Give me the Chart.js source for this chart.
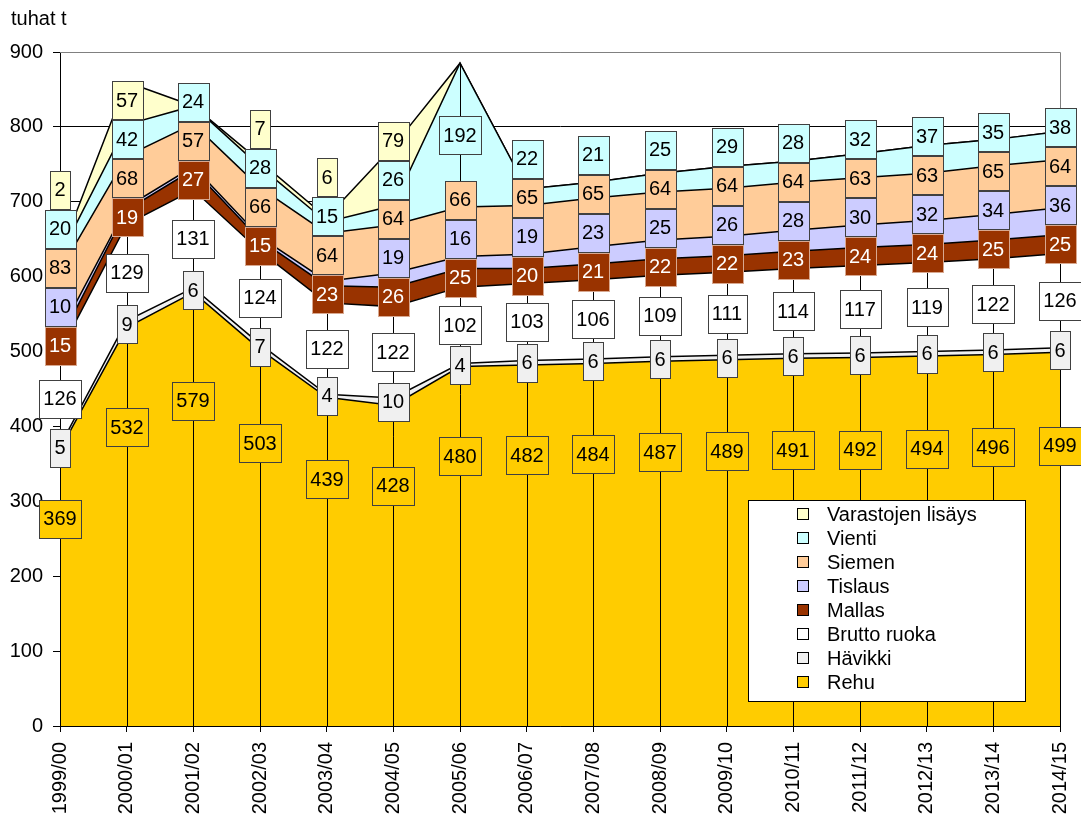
<!DOCTYPE html>
<html>
<head>
<meta charset="utf-8">
<script src="https://cdn.jsdelivr.net/npm/chart.js@4.4.1/dist/chart.umd.min.js"></script>
<style>
  body { margin: 0; background: #fff; }
</style>
</head>
<body>
<canvas id="chart" width="1081" height="814"></canvas>
<script>
var years = ['1999/00', '2000/01', '2001/02', '2002/03', '2003/04', '2004/05', '2005/06', '2006/07',
             '2007/08', '2008/09', '2009/10', '2010/11', '2011/12', '2012/13', '2013/14', '2014/15'];

// tuhat tonnia, stacked from the bottom up
var rehu      = [369, 532, 579, 503, 439, 428, 480, 482, 484, 487, 489, 491, 492, 494, 496, 499];
var havikki   = [5, 9, 6, 7, 4, 10, 4, 6, 6, 6, 6, 6, 6, 6, 6, 6];
var brutto    = [126, 129, 131, 124, 122, 122, 102, 103, 106, 109, 111, 114, 117, 119, 122, 126];
var mallas    = [15, 19, 27, 15, 23, 26, 25, 20, 21, 22, 22, 23, 24, 24, 25, 25];
var tislaus   = [10, 4, 4, 4, 6, 19, 16, 19, 23, 25, 26, 28, 30, 32, 34, 36];
var siemen    = [83, 68, 57, 66, 64, 64, 66, 65, 65, 64, 64, 64, 63, 63, 65, 64];
var vienti    = [20, 42, 24, 28, 15, 26, 192, 22, 21, 25, 29, 28, 32, 37, 35, 38];
var varastot  = [2, 57, 0, 7, 6, 79, 0, 0, 0, 0, 0, 0, 0, 0, 0, 0];

var seriesNames  = ['Rehu', 'Hävikki', 'Brutto ruoka', 'Mallas', 'Tislaus', 'Siemen', 'Vienti', 'Varastojen lisäys'];
var seriesColors = ['#FFCC00', '#F0F0F0', '#FFFFFF', '#993300', '#CCCCFF', '#FFCC99', '#CCFFFF', '#FFFFCC'];
var seriesValues = [rehu, havikki, brutto, mallas, tislaus, siemen, vienti, varastot];

// Tislaus has no label in these years in the original
var noLabel = { 4: [1, 2, 3, 4] };

var FONT = '"Liberation Sans", Arial, sans-serif';
Chart.defaults.font.family = FONT;
Chart.defaults.font.size = 20;
Chart.defaults.color = '#000';

var LABEL_H = 38;
var LABEL_GAP = 39;

// plot frame (top and right edges)
var plotFrame = {
    id: 'plotFrame',
    beforeDatasetsDraw: function (chart) {
        var a = chart.chartArea, ctx = chart.ctx;
        ctx.save();
        ctx.strokeStyle = '#808080';
        ctx.lineWidth = 1;
        ctx.beginPath();
        ctx.moveTo(a.left, a.top + 0.5);
        ctx.lineTo(a.right + 0.5, a.top + 0.5);
        ctx.lineTo(a.right + 0.5, a.bottom);
        ctx.stroke();
        ctx.restore();
    }
};

// drop lines and boxed value labels
var dropLinesAndLabels = {
    id: 'dropLinesAndLabels',
    afterDatasetsDraw: function (chart) {
        var ctx = chart.ctx, xs = chart.scales.x, ys = chart.scales.y;
        ctx.save();
        ctx.strokeStyle = '#000';
        ctx.lineWidth = 1;
        years.forEach(function (yr, i) {
            var total = 0;
            seriesValues.forEach(function (arr) { total += arr[i]; });
            var x = Math.round(xs.getPixelForValue(i)) + 0.5;
            ctx.beginPath();
            ctx.moveTo(x, ys.getPixelForValue(0));
            ctx.lineTo(x, ys.getPixelForValue(total));
            ctx.stroke();
        });

        ctx.font = '20px ' + FONT;
        ctx.textAlign = 'center';
        ctx.textBaseline = 'middle';
        years.forEach(function (yr, i) {
            var base = 0, prev = Infinity;
            var x = Math.round(xs.getPixelForValue(i));
            seriesValues.forEach(function (arr, s) {
                var v = arr[i];
                var mid = s === 0 ? v * 0.75 : base + v / 2;
                base += v;
                if (!v || (noLabel[s] && noLabel[s].indexOf(i) >= 0)) return;
                var cy = Math.min(ys.getPixelForValue(mid), prev - LABEL_GAP);
                prev = cy;
                var txt = String(v);
                var w = Math.round(ctx.measureText(txt).width + 9);
                var bx = Math.round(x - w / 2) + 0.5, by = Math.round(cy - LABEL_H / 2) + 0.5;
                ctx.fillStyle = seriesColors[s];
                ctx.fillRect(bx, by, w, LABEL_H);
                ctx.strokeStyle = s === 3 ? '#d8a890' : '#404040';
                ctx.strokeRect(bx, by, w, LABEL_H);
                ctx.fillStyle = s === 3 ? '#fff' : '#000';
                ctx.fillText(txt, x, cy + 1);
            });
        });
        ctx.restore();
    }
};

// axis title and legend box
var extras = {
    id: 'extras',
    afterDraw: function (chart) {
        var ctx = chart.ctx;
        ctx.save();
        ctx.font = '20px ' + FONT;
        ctx.fillStyle = '#000';
        ctx.textAlign = 'left';
        ctx.textBaseline = 'middle';
        ctx.fillText('tuhat t', 11, 19);

        var lx = 748, ly = 500, lw = 277, lh = 201;
        ctx.fillStyle = '#fff';
        ctx.fillRect(lx + 0.5, ly + 0.5, lw, lh);
        ctx.strokeStyle = '#000';
        ctx.lineWidth = 1;
        ctx.strokeRect(lx + 0.5, ly + 0.5, lw, lh);
        for (var k = 0; k < seriesNames.length; k++) {
            var s = seriesNames.length - 1 - k;
            var iy = ly + 14 + k * 24;
            ctx.fillStyle = seriesColors[s];
            ctx.fillRect(797.5, iy - 5.5, 11, 11);
            ctx.strokeRect(797.5, iy - 5.5, 11, 11);
            ctx.fillStyle = '#000';
            ctx.fillText(seriesNames[s], 827, iy + 1);
        }
        ctx.restore();
    }
};

var datasets = seriesValues.map(function (vals, s) {
    return {
        label: seriesNames[s],
        data: vals,
        backgroundColor: seriesColors[s],
        borderColor: '#000',
        borderWidth: 1.5,
        fill: s === 0 ? 'origin' : '-1',
        pointRadius: 0,
        tension: 0
    };
});

new Chart(document.getElementById('chart'), {
    type: 'line',
    data: { labels: years, datasets: datasets },
    options: {
        responsive: false,
        animation: false,
        layout: { padding: { top: 52, right: 21, left: 0, bottom: 0 } },
        plugins: { legend: { display: false }, tooltip: { enabled: false } },
        scales: {
            x: {
                offset: false,
                grid: { drawOnChartArea: false, color: '#000', tickLength: 6 },
                border: { color: '#000' },
                ticks: { autoSkip: false, minRotation: 90, maxRotation: 90, padding: 10, color: '#000' },
                afterFit: function (s) {
                    s.height = 88;
                    s.paddingLeft = 0;
                    s.paddingRight = 0;
                }
            },
            y: {
                stacked: true,
                min: 0,
                max: 900,
                ticks: { stepSize: 100, padding: 10, color: '#000' },
                grid: {
                    color: function (c) { return c.tick && c.tick.value === 900 ? '#808080' : '#000'; },
                    tickColor: '#000',
                    tickLength: 7
                },
                border: { color: '#000' },
                afterFit: function (s) { s.width = 60; }
            }
        }
    },
    plugins: [plotFrame, dropLinesAndLabels, extras]
});
</script>
</body>
</html>
